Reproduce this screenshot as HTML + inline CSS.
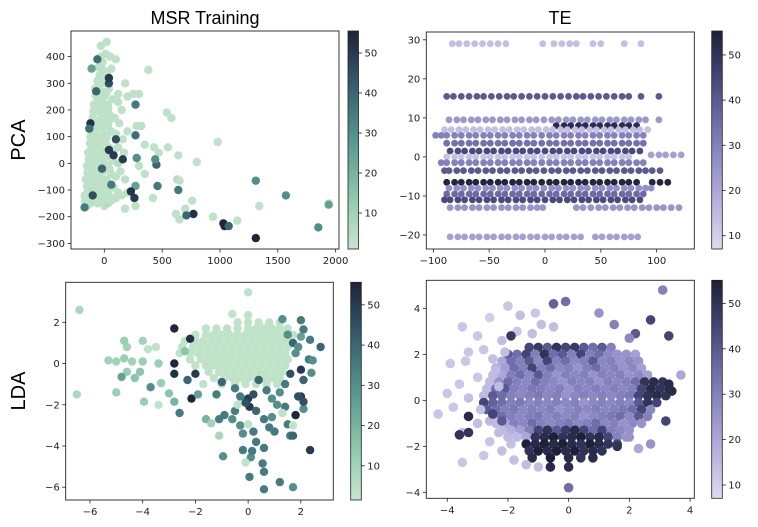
<!DOCTYPE html>
<html><head><meta charset="utf-8"><style>
html,body{margin:0;padding:0;background:#fff;}
svg{display:block;font-family:"DejaVu Sans","Liberation Sans",sans-serif;}
</style></head><body>
<svg id="fig" width="758" height="527" viewBox="0 0 758 527" xmlns="http://www.w3.org/2000/svg">
<text x="205" y="24" font-size="18" text-anchor="middle" font-family="Liberation Sans, sans-serif">MSR Training</text>
<text x="560" y="24" font-size="18" text-anchor="middle" font-family="Liberation Sans, sans-serif">TE</text>
<text transform="translate(25,140) rotate(-90)" font-size="20" text-anchor="middle" font-family="Liberation Sans, sans-serif">PCA</text>
<text transform="translate(25,391) rotate(-90)" font-size="20" text-anchor="middle" font-family="Liberation Sans, sans-serif">LDA</text>
</svg>
<script>
// ---------- data ----------
const tlX=[-150,-120,-100,-60,-30,0,30,60,100,150,-170,-140,-110,-80,-50,-20,10,40,80,120,-160,-130,-100,-70,-40,-10,20,60,100,-150,-120,-90,-60,-30,0,30,70,120,-140,-110,-80,-50,-20,10,40,80,-120,-90,-60,-30,0,30,60,100,-100,-70,-40,-10,20,50,90,-90,-60,-30,0,30,70,120,-80,-50,-20,10,40,-40,-10,20,-30,-30,20,50,100,180,250,200,300,280,320,200,380,540,580,350,430,470,550,640,800,980,300,350,420,270,180,620,650,700,760,940,1150,1340,1940,630,650,
-165,-135,-85,-45,-15,15,50,-150,-125,-95,-65,-35,-5,30,-145,-115,-85,-55,-25,5,45,-135,-105,-75,-45,-15,20,55,-125,-95,-65,-35,-5,25,-110,-80,-50,-20,10,40,-95,-65,-35,-5,35,-75,-45,-15,20,-60,-30,0,-15,10,-50,60,120,150,130,160,120,170,140,180,200,
-120,-130,-60,-110,270,270,40,160,450,440,280,460,640,270,230,260,770,710,1030,1040,1075,1310,1570,1940,1850,1310,-170,40,40,-70,-20,60,-100,100,80];
const tlY=[-160,-150,-140,-150,-140,-160,-150,-140,-130,-120,-120,-100,-90,-110,-100,-90,-110,-100,-90,-110,-60,-50,-40,-60,-50,-30,-60,-40,-50,-10,0,10,-10,0,20,-10,10,0,40,60,50,70,50,80,60,50,100,120,100,130,110,140,120,110,170,160,190,170,200,180,170,220,240,230,250,220,240,230,280,290,270,300,280,330,350,340,400,440,455,400,390,300,260,250,260,140,140,120,350,190,170,70,60,40,60,30,5,80,-10,-40,-130,-160,-170,-190,-210,-170,-140,-200,-215,-160,-150,-60,-65,
-140,-125,-130,-125,-120,-130,-125,-85,-75,-70,-85,-75,-65,-80,-35,-25,-20,-30,-15,-5,-20,15,30,30,20,30,35,25,75,85,80,90,95,100,140,135,145,150,145,160,195,200,210,215,205,255,265,255,265,310,305,320,380,410,360,355,260,200,150,90,60,40,-30,-60,-110,
150,130,390,355,220,105,50,15,-5,15,20,-85,-100,-85,-105,-130,-190,-195,-225,-235,-235,-65,-120,-155,-240,-280,-165,300,320,270,-20,-80,-120,90,30];
const tlC=[3,3,5,3,3,3,5,3,3,3,3,3,5,3,3,3,3,3,3,3,3,3,3,3,3,3,3,3,3,3,3,3,3,3,3,3,3,5,3,3,3,3,3,3,3,3,3,3,3,3,3,3,3,3,3,3,3,3,3,3,3,3,3,3,3,3,3,3,3,3,3,3,3,3,3,3,3,3,3,3,3,3,3,3,3,3,3,3,3,3,3,3,3,3,3,3,3,3,3,3,3,3,3,3,3,3,3,3,3,3,3,5,3,
3,3,3,3,3,3,3,3,3,3,3,3,3,3,3,3,3,3,3,3,3,3,3,3,3,3,3,3,3,3,3,3,3,3,3,3,3,3,3,3,3,3,3,3,3,3,3,3,3,3,3,3,3,3,3,3,3,3,3,3,3,3,3,3,3,
52,38,38,25,35,38,50,50,40,30,30,35,35,25,52,50,52,40,55,55,40,30,30,25,30,55,35,45,50,40,40,35,45,45,50];

const teA=[-88,-81,-75,-68,-62,-55,-49,-42,-36,-29,-23,-16,-10,-3,4,10,17,23,30,36,43,49,56,62,69,75,82,88];
const teRowY=[29,15.5,9.5,8,7,5.5,3.5,1.5,0,0.5,-1.5,-3.5,-6.5,-8,-9.5,-11,-13,-20.5];
const teRowC=[14,40,24,52,14,30,34,44,13,22,30,40,54,26,36,44,25,22];
const teRowX=[
[-83,-77,-70,-63,-56,-49,-42,-35,-2,8,15,22,28,43,50,71,86],
[-88,-82,-75,-68,-61,-55,-48,-41,-34,-28,-21,-14,-7,0,7,14,21,28,34,41,48,55,62,69,75,86,102],
[-86,-79,-73,-66,-60,-53,-47,-40,-34,-27,-21,-14,-8,-1,6,12,19,25,32,38,45,51,58,64,71,77,84,90,102],
[10,17,23,30,36,43,49,56,62,69,75,82],
[-90,-84,-77,-71,-64,-58,-51,-45,-38,-32,-25,-19,-12,-6,1,7,14,20,27,33,40,46,53,59,66,72,79,85,92],
[-98,-93,-88,-81,-75,-68,-62,-55,-49,-42,-36,-29,-23,-16,-10,-3,4,10,17,23,30,36,43,49,56,62,69,75,82,88],
teA,
[-85,-78,-72,-65,-59,-52,-46,-39,-33,-26,-20,-13,-7,0,7,13,20,26,33,39,46,52,59,65,72,78,85],
[-88,-81,-75,-68,-62,-55,-49,-42,-36,-29,-23,-16,-10,-3,4,10,17,23,30,36,43,49,56,62,69,75],
[95,102,108,115,122],
[-93,-88,-81,-75,-68,-62,-55,-49,-42,-36,-29,-23,-16,-10,-3,4,10,17,23,30,36,43,49,56,62,69,75,82,88],
[-90,-86,-79,-73,-66,-60,-53,-47,-40,-34,-27,-21,-14,-8,-1,6,12,19,25,32,38,45,51,58,64,71,77,84,90,96,103],
[-88,-81,-75,-68,-62,-55,-49,-42,-36,-29,-23,-16,-10,-3,4,10,17,23,30,36,43,49,56,62,69,75,82,96,103,110],
[-86,-79,-73,-66,-60,-53,-47,-40,-34,-27,-21,-14,-8,-1,6,12,19,25,32,38,45,51,58,64,71,77,84,90,95],
teA,
[-90,-85,-78,-72,-65,-59,-52,-46,-39,-33,-26,-20,-13,-7,0,7,13,20,26,33,39,46,52,59,65,72,78,85],
[-85,-78,-72,-65,-59,-52,-46,-39,-33,-26,-20,-13,-7,-2,28,34,41,48,54,61,67,74,80,87,93,100,106,113,120],
[-85,-78,-72,-65,-59,-52,-46,-39,-33,-26,-20,-13,-7,0,6,13,19,26,32,45,51,58,64,71,77,83]];

const blRowY=[2.0,1.7,1.4,1.1,0.8,0.5,0.2,-0.1,-0.4,-0.7,-1.0];
const blRowX=[
[-0.4,0,0.4,0.8,1.2],
[-1.6,-1.2,-0.8,-0.4,0,0.3,0.6,0.9,1.2,1.5],
[-2.0,-1.6,-1.3,-1.0,-0.7,-0.4,-0.1,0.2,0.5,0.8,1.1,1.4,1.7],
[-2.4,-2.0,-1.7,-1.4,-1.1,-0.8,-0.5,-0.2,0.1,0.4,0.7,1.0,1.3,1.6],
[-2.5,-2.1,-1.8,-1.5,-1.2,-0.9,-0.6,-0.3,0,0.3,0.6,0.9,1.2,1.5],
[-2.6,-2.2,-1.9,-1.6,-1.3,-1.0,-0.7,-0.4,-0.1,0.2,0.5,0.8,1.1,1.4],
[-2.2,-1.8,-1.5,-1.2,-0.9,-0.6,-0.3,0,0.3,0.6,0.9,1.2,1.5],
[-2.0,-1.6,-1.3,-1.0,-0.7,-0.4,-0.1,0.2,0.5,0.8,1.1,1.4],
[-1.5,-1.1,-0.8,-0.5,-0.2,0.1,0.4,0.7,1.0,1.3],
[-1.3,-0.9,-0.6,-0.3,0,0.3,0.6,0.9,1.2],
[-1.7,-1.0,-0.5,-0.1,0.3,0.7,1.1]];
const blRowC=3;
const blX=[-6.4,-6.5,-5.3,-5.0,-4.7,-4.6,-4.7,-4.6,-4.3,-4.8,-4.4,-4.0,-4.0,-4.1,-3.8,-3.7,-3.5,-3.3,-3.0,-3.95,-3.4,-5.0,-2.8,-2.8,-2.8,-2.8,-2.6,-2.2,-2.15,-2.0,-2.3,-1.9,-1.6,-1.4,-1.1,-1.1,-0.9,-0.95,-0.5,-0.6,-0.3,-0.2,-0.2,-0.3,0,0.05,0.1,0.05,0.15,0.2,0.3,0.55,0.6,0.6,0.6,0.6,0.3,0.9,0.8,1.0,1.2,1.5,1.6,1.7,1.7,1.8,1.4,2.1,2.35,2.0,2.1,1.9,2.0,2.1,2.3,2.45,2.75,2.35,2.1,2.0,1.3,1.5,1.7,1.8,1.6,1.4,1.2,0.9,0.7,0.4,-0.5,-1.0,-1.2,2.4,1.9,2.0,1.1,0.2,-0.1,-0.6,0,0,1.7,-0.4,0.0,-0.1,1.3,-3.4,-2.4];
const blY=[2.6,-1.5,0.15,0.1,1.1,0.8,0.25,-0.4,-0.7,-0.65,0.1,1.1,0.1,-0.4,0.7,-1.15,0.8,-0.95,-1.45,-1.85,-2.0,-1.4,1.7,0,-0.5,-1.85,-2.4,1.2,-1.7,-0.5,-0.8,-1.5,-2.7,-2.9,-2.7,-3.5,-2.5,-4.5,-2.3,-2.7,-3.0,-4.2,-3.4,-1.6,-1.7,-2.1,-4.55,-5.5,-4.25,-3.3,-3.8,-4.85,-5.25,-4.1,-6.1,-2.7,-2.3,-2.6,-3.1,-3.3,-5.75,-2.95,-3.5,-3.5,-6.0,-2.5,-2.1,-2.2,-4.2,-1.6,-1.85,-1.6,-0.3,-0.8,0.2,0.15,0.8,1.15,1.65,2.1,2.15,1.4,1.0,0.5,-0.5,-1.0,-1.4,-1.7,-1.3,-0.8,-1.2,-0.9,-1.5,-0.45,0.8,1.3,-2.0,-1.5,-1.9,2.4,3.45,2.35,-3.0,-2.0,-2.95,-4.8,-2.4,0.0,0.6];
const blC=[8,8,10,10,12,10,12,12,15,25,10,10,12,15,3,30,3,12,15,12,3,12,55,55,52,20,35,52,55,50,40,25,20,10,35,8,35,30,35,30,30,35,30,35,50,50,30,35,35,35,35,35,35,35,35,35,40,30,35,35,35,35,35,40,30,55,35,30,50,50,45,45,50,40,35,30,40,35,35,35,30,30,40,30,45,35,30,30,35,40,35,40,35,30,30,25,30,45,45,3,3,3,3,3,3,3,3,12,15];

const brX=[-1.3,-1.0,-0.7,-0.4,-0.1,0.2,0.5,0.8,1.1,1.4,
-2.0,-1.7,-1.4,-1.1,-0.8,-0.5,-0.2,0.1,0.4,0.7,1.0,1.3,1.6,1.9,2.2,
-2.2,-1.9,-1.6,-1.3,-1.0,-0.7,-0.4,-0.1,0.2,0.5,0.8,1.1,1.4,1.7,2.0,2.3,
-2.4,-2.1,-1.8,-1.5,-1.2,-0.9,-0.6,-0.3,0,0.3,0.6,0.9,1.2,1.5,1.8,2.1,2.4,
-2.5,-2.2,-1.9,-1.6,-1.3,-1.0,-0.7,-0.4,-0.1,0.2,0.5,0.8,1.1,1.4,1.7,2.0,2.3,2.6,
-2.6,-2.3,-2.0,-1.7,-1.4,-1.1,-0.8,-0.5,-0.2,0.1,0.4,0.7,1.0,1.3,1.6,1.9,2.2,2.5,2.8,3.1,
-2.7,-2.4,-2.1,-1.8,-1.5,-1.2,-0.9,-0.6,-0.3,0,0.3,0.6,0.9,1.2,1.5,1.8,2.1,2.4,2.7,3.0,3.3,
-2.8,-2.5,-2.2,-1.9,-1.6,-1.3,-1.0,-0.7,-0.4,-0.1,0.2,0.5,0.8,1.1,1.4,1.7,2.0,2.3,2.6,2.9,3.2,
-2.8,-2.5,-2.2,-1.9,-1.6,-1.3,-1.0,-0.7,-0.4,-0.1,0.2,0.5,0.8,1.1,1.4,1.7,2.0,2.3,2.6,2.9,
-2.7,-2.4,-2.1,-1.8,-1.5,-1.2,-0.9,-0.6,-0.3,0,0.3,0.6,0.9,1.2,1.5,1.8,2.1,2.4,2.7,
-2.5,-2.2,-1.9,-1.6,-1.3,-1.0,-0.7,-0.4,-0.1,0.2,0.5,0.8,1.1,1.4,1.7,2.0,2.3,2.6,
-2.4,-2.1,-1.8,-1.5,-1.2,-0.9,-0.6,-0.3,0,0.3,0.6,0.9,1.2,1.5,1.8,2.1,2.4,
-2.2,-1.9,-1.6,-1.3,-1.0,-0.7,-0.4,-0.1,0.2,0.5,0.8,1.1,1.4,1.7,2.0,
-2.0,-1.7,-1.4,-1.1,-0.8,-0.5,-0.2,0.1,0.4,0.7,1.0,1.3,1.6,1.9,
-1.4,-1.1,-0.8,-0.5,-0.2,0.1,0.4,0.7,1.0,1.3,1.6,
-1.3,-1.0,-0.7,-0.4,-0.1,0.2,0.5,0.8,1.1,
-1.2,-0.6,0,0.4,0.8,
-3.5,-3.0,-2.6,-2.2,-2.8,-3.4,-3.9,-2.5,-3.0,-3.6,-4.0,-3.3,-4.3,-3.8,-3.0,-3.5,-2.6,-2.2,-2.8,-3.5,-1.8,-1.4,-1.0,-2.0,-1.6,-0.9,-1.2,-2.4,-2.9,-3.3,-1.9,-2.3,-2.1,-1.7,-0.5,-1.1,-2.6,-2.3,
-0.5,-0.1,1.0,1.5,2.7,3.1,3.3,2.2,2.0,0,0,-0.6,3.2,2.7,2.3,3.7,-3.3,-3.6,-3.3,-1.9,3.4,3.3,2.0,1.6,-2.5,-2.2];
const brY=[2.3,2.3,2.3,2.3,2.3,2.3,2.3,2.3,2.3,2.3,
2.0,2.0,2.0,2.0,2.0,2.0,2.0,2.0,2.0,2.0,2.0,2.0,2.0,2.0,2.0,
1.7,1.7,1.7,1.7,1.7,1.7,1.7,1.7,1.7,1.7,1.7,1.7,1.7,1.7,1.7,1.7,
1.4,1.4,1.4,1.4,1.4,1.4,1.4,1.4,1.4,1.4,1.4,1.4,1.4,1.4,1.4,1.4,1.4,
1.1,1.1,1.1,1.1,1.1,1.1,1.1,1.1,1.1,1.1,1.1,1.1,1.1,1.1,1.1,1.1,1.1,1.1,
0.8,0.8,0.8,0.8,0.8,0.8,0.8,0.8,0.8,0.8,0.8,0.8,0.8,0.8,0.8,0.8,0.8,0.8,0.8,0.8,
0.5,0.5,0.5,0.5,0.5,0.5,0.5,0.5,0.5,0.5,0.5,0.5,0.5,0.5,0.5,0.5,0.5,0.5,0.5,0.5,0.5,
0.2,0.2,0.2,0.2,0.2,0.2,0.2,0.2,0.2,0.2,0.2,0.2,0.2,0.2,0.2,0.2,0.2,0.2,0.2,0.2,0.2,
-0.1,-0.1,-0.1,-0.1,-0.1,-0.1,-0.1,-0.1,-0.1,-0.1,-0.1,-0.1,-0.1,-0.1,-0.1,-0.1,-0.1,-0.1,-0.1,-0.1,
-0.4,-0.4,-0.4,-0.4,-0.4,-0.4,-0.4,-0.4,-0.4,-0.4,-0.4,-0.4,-0.4,-0.4,-0.4,-0.4,-0.4,-0.4,-0.4,
-0.7,-0.7,-0.7,-0.7,-0.7,-0.7,-0.7,-0.7,-0.7,-0.7,-0.7,-0.7,-0.7,-0.7,-0.7,-0.7,-0.7,-0.7,
-1.0,-1.0,-1.0,-1.0,-1.0,-1.0,-1.0,-1.0,-1.0,-1.0,-1.0,-1.0,-1.0,-1.0,-1.0,-1.0,-1.0,
-1.3,-1.3,-1.3,-1.3,-1.3,-1.3,-1.3,-1.3,-1.3,-1.3,-1.3,-1.3,-1.3,-1.3,-1.3,
-1.6,-1.6,-1.6,-1.6,-1.6,-1.6,-1.6,-1.6,-1.6,-1.6,-1.6,-1.6,-1.6,-1.6,
-1.9,-1.9,-1.9,-1.9,-1.9,-1.9,-1.9,-1.9,-1.9,-1.9,-1.9,
-2.2,-2.2,-2.2,-2.2,-2.2,-2.2,-2.2,-2.2,-2.2,
-2.5,-2.5,-2.5,-2.5,-2.5,
3.2,2.8,3.6,2.6,2.2,1.7,1.6,1.8,1.0,0.7,0.3,0.1,-0.6,-0.3,-1.0,-1.4,-1.8,-2.2,-2.4,-2.7,-2.6,-2.8,-2.9,4.1,3.7,3.3,2.9,1.3,-0.4,2.1,-1.9,-1.4,2.1,3.0,3.2,3.8,-0.9,0.6,
4.2,4.3,3.8,3.3,3.5,4.8,2.8,2.9,2.7,-3.8,-2.9,-2.9,-0.9,-1.9,-2.1,1.1,-0.7,-1.5,-1.4,2.8,0.4,0.7,-1.6,-2.0,-0.6,-0.9];
const brC=[45,48,40,50,45,48,40,35,40,30,
40,35,45,30,50,35,40,30,45,30,35,28,25,25,22,
20,35,30,40,28,45,30,35,28,30,40,28,30,25,28,25,
18,22,35,30,45,30,35,28,30,25,30,35,28,30,25,28,22,
15,20,30,35,28,40,30,25,30,28,30,25,30,28,30,25,28,22,
15,25,35,30,28,35,30,28,25,30,28,30,25,30,28,30,35,50,52,50,
15,35,40,30,28,32,30,28,30,25,30,28,30,28,30,28,30,45,52,50,52,
15,40,35,30,28,30,32,28,30,25,28,30,28,30,28,30,32,45,50,52,50,
45,38,35,30,32,28,30,28,30,28,30,25,28,30,28,30,28,40,50,45,
40,35,30,32,28,30,28,30,25,28,30,28,30,28,30,32,35,45,28,
20,35,30,28,30,32,28,30,28,30,25,28,30,32,35,28,40,30,
15,20,30,28,35,30,28,30,32,28,30,35,28,30,25,28,25,
15,18,22,30,45,50,40,48,52,45,35,45,30,28,25,
15,15,20,50,52,55,50,52,55,50,52,45,30,25,
55,52,55,52,55,52,50,55,52,50,45,
50,55,52,55,52,55,50,52,50,
52,55,52,50,52,
12,12,10,14,12,12,12,14,12,12,12,14,12,12,14,14,12,14,12,12,14,14,14,12,14,14,14,15,14,12,14,15,14,12,14,12,16,15,
38,35,25,30,45,30,45,40,28,35,52,52,45,25,20,20,52,50,50,48,52,52,25,50,45,40];

const tlXTicks=[0,500,1000,1500,2000], tlYTicks=[-300,-200,-100,0,100,200,300,400];
const trXTicks=[-100,-50,0,50,100], trYTicks=[-20,-10,0,10,20,30];
const blXTicks=[-6,-4,-2,0,2], blYTicks=[-6,-4,-2,0,2];
const brXTicks=[-4,-2,0,2,4], brYTicks=[-4,-2,0,2,4];
const cbTicks=[10,20,30,40,50];

// ---------- rendering ----------
const NS='http://www.w3.org/2000/svg';
const svg=document.getElementById('fig');
function mk(tag,attrs,parent){const e=document.createElementNS(NS,tag);for(const k in attrs)e.setAttribute(k,attrs[k]);(parent||svg).appendChild(e);return e;}
function lin(d0,d1,p0,p1){return v=>p0+(v-d0)/(d1-d0)*(p1-p0);}
const greenStops=[[0,[198,230,204]],[0.2,[150,207,177]],[0.45,[95,160,148]],[0.65,[64,118,124]],[0.85,[42,70,90]],[1,[29,36,56]]];
const purpStops=[[0,[222,218,241]],[0.3,[166,161,214]],[0.55,[118,115,178]],[0.78,[70,71,122]],[1,[30,32,54]]];
function cmap(stops,t){t=Math.max(0,Math.min(1,t));for(let i=1;i<stops.length;i++){if(t<=stops[i][0]){const a=stops[i-1],b=stops[i];const f=(t-a[0])/(b[0]-a[0]);const c=a[1].map((v,j)=>Math.round(v+(b[1][j]-v)*f));return `rgb(${c})`;}}return `rgb(${stops[stops.length-1][1]})`;}

let clipN=0;
function panel(name,P,xt,yt,stops,crange,cb,xs,ys,cs,r,op){
  const g=mk('g',{});
  
  
  const sx=lin(P.dx[0],P.dx[1],P.px[0],P.px[1]), sy=lin(P.dy[0],P.dy[1],P.py[1],P.py[0]);
  const id='clip'+(clipN++);
  const cp=mk('clipPath',{id:id},g);
  mk('rect',{x:P.px[0],y:P.py[0],width:P.px[1]-P.px[0],height:P.py[1]-P.py[0]},cp);
  const pts=mk('g',{'clip-path':`url(#${id})`},g);
  
  
  for(let i=0;i<xs.length;i++){
    const c=mk('circle',{cx:sx(xs[i]).toFixed(1),cy:sy(ys[i]).toFixed(1),r:r,fill:cmap(stops,(cs[i]-crange[0])/(crange[1]-crange[0])),'fill-opacity':op},pts);
    
    
  }
  const fr=mk('rect',{x:P.px[0],y:P.py[0],width:P.px[1]-P.px[0],height:P.py[1]-P.py[0],fill:'none',stroke:'#222','stroke-width':0.9},g);
  
  
  xt.forEach(v=>{const x=sx(v);mk('line',{x1:x,x2:x,y1:P.py[1],y2:P.py[1]+3.5,stroke:'#222','stroke-width':0.8},g);
    const t=mk('text',{x:x,y:P.py[1]+15,'font-size':10,'text-anchor':'middle',fill:'#222'},g);t.textContent=String(v).replace('-','\u2212');
    });
  yt.forEach(v=>{const y=sy(v);mk('line',{x1:P.px[0]-3.5,x2:P.px[0],y1:y,y2:y,stroke:'#222','stroke-width':0.8},g);
    const t=mk('text',{x:P.px[0]-6,y:y+3.5,'font-size':10,'text-anchor':'end',fill:'#222'},g);t.textContent=String(v).replace('-','\u2212');
    });
  const gid='grad'+clipN;
  const lg=mk('linearGradient',{id:gid,x1:0,y1:1,x2:0,y2:0},g);
  for(let i=0;i<=10;i++)mk('stop',{offset:i/10,'stop-color':cmap(stops,i/10)},lg);
  const cbr=mk('rect',{x:cb.x0,y:cb.y0,width:cb.x1-cb.x0,height:cb.y1-cb.y0,fill:`url(#${gid})`,stroke:'#222','stroke-width':0.8},g);
  
  
  const cy=lin(crange[0],crange[1],cb.y1,cb.y0);
  cbTicks.forEach(v=>{const y=cy(v);mk('line',{x1:cb.x1,x2:cb.x1+3.5,y1:y,y2:y,stroke:'#222','stroke-width':0.8},g);
    const t=mk('text',{x:cb.x1+6,y:y+3.5,'font-size':10,fill:'#222'},g);t.textContent=v;
    });
}

const trXs=[],trYs=[],trCs=[];
teRowX.forEach((row,i)=>row.forEach(x=>{trXs.push(x);trYs.push(teRowY[i]);trCs.push(teRowC[i]);}));
const blXs=[],blYs=[],blCs=[];
blRowX.forEach((row,i)=>row.forEach(x=>{blXs.push(x);blYs.push(blRowY[i]);blCs.push(blRowC);}));
blX.forEach((x,i)=>{blXs.push(x);blYs.push(blY[i]);blCs.push(blC[i]);});

panel('msr-pca',{px:[71,339],py:[31,249],dx:[-288,2029],dy:[-321,496]},tlXTicks,tlYTicks,greenStops,[1,55.5],{x0:348,x1:358.5,y0:31,y1:249},tlX,tlY,tlC,4.2,1);
panel('te-pca',{px:[426.3,694.3],py:[32,249],dx:[-106.3,133.7],dy:[-23.6,32]},trXTicks,trYTicks,purpStops,[7.05,55.3],{x0:711.7,x1:722.3,y0:31,y1:249},trXs,trYs,trCs,3.4,1);
panel('msr-lda',{px:[65.7,333.3],py:[282.3,500],dx:[-6.92,3.23],dy:[-6.62,3.94]},blXTicks,blYTicks,greenStops,[1.5,55.6],{x0:350.7,x1:361.3,y0:282.3,y1:500},blXs,blYs,blCs,4.2,1);
panel('te-lda',{px:[426.3,694.3],py:[280.3,498.3],dx:[-4.69,4.14],dy:[-4.26,5.22]},brXTicks,brYTicks,purpStops,[7.07,55.1],{x0:711.7,x1:722.3,y0:280.3,y1:498.3},brX,brY,brC,4.8,1);
</script>
</body></html>
